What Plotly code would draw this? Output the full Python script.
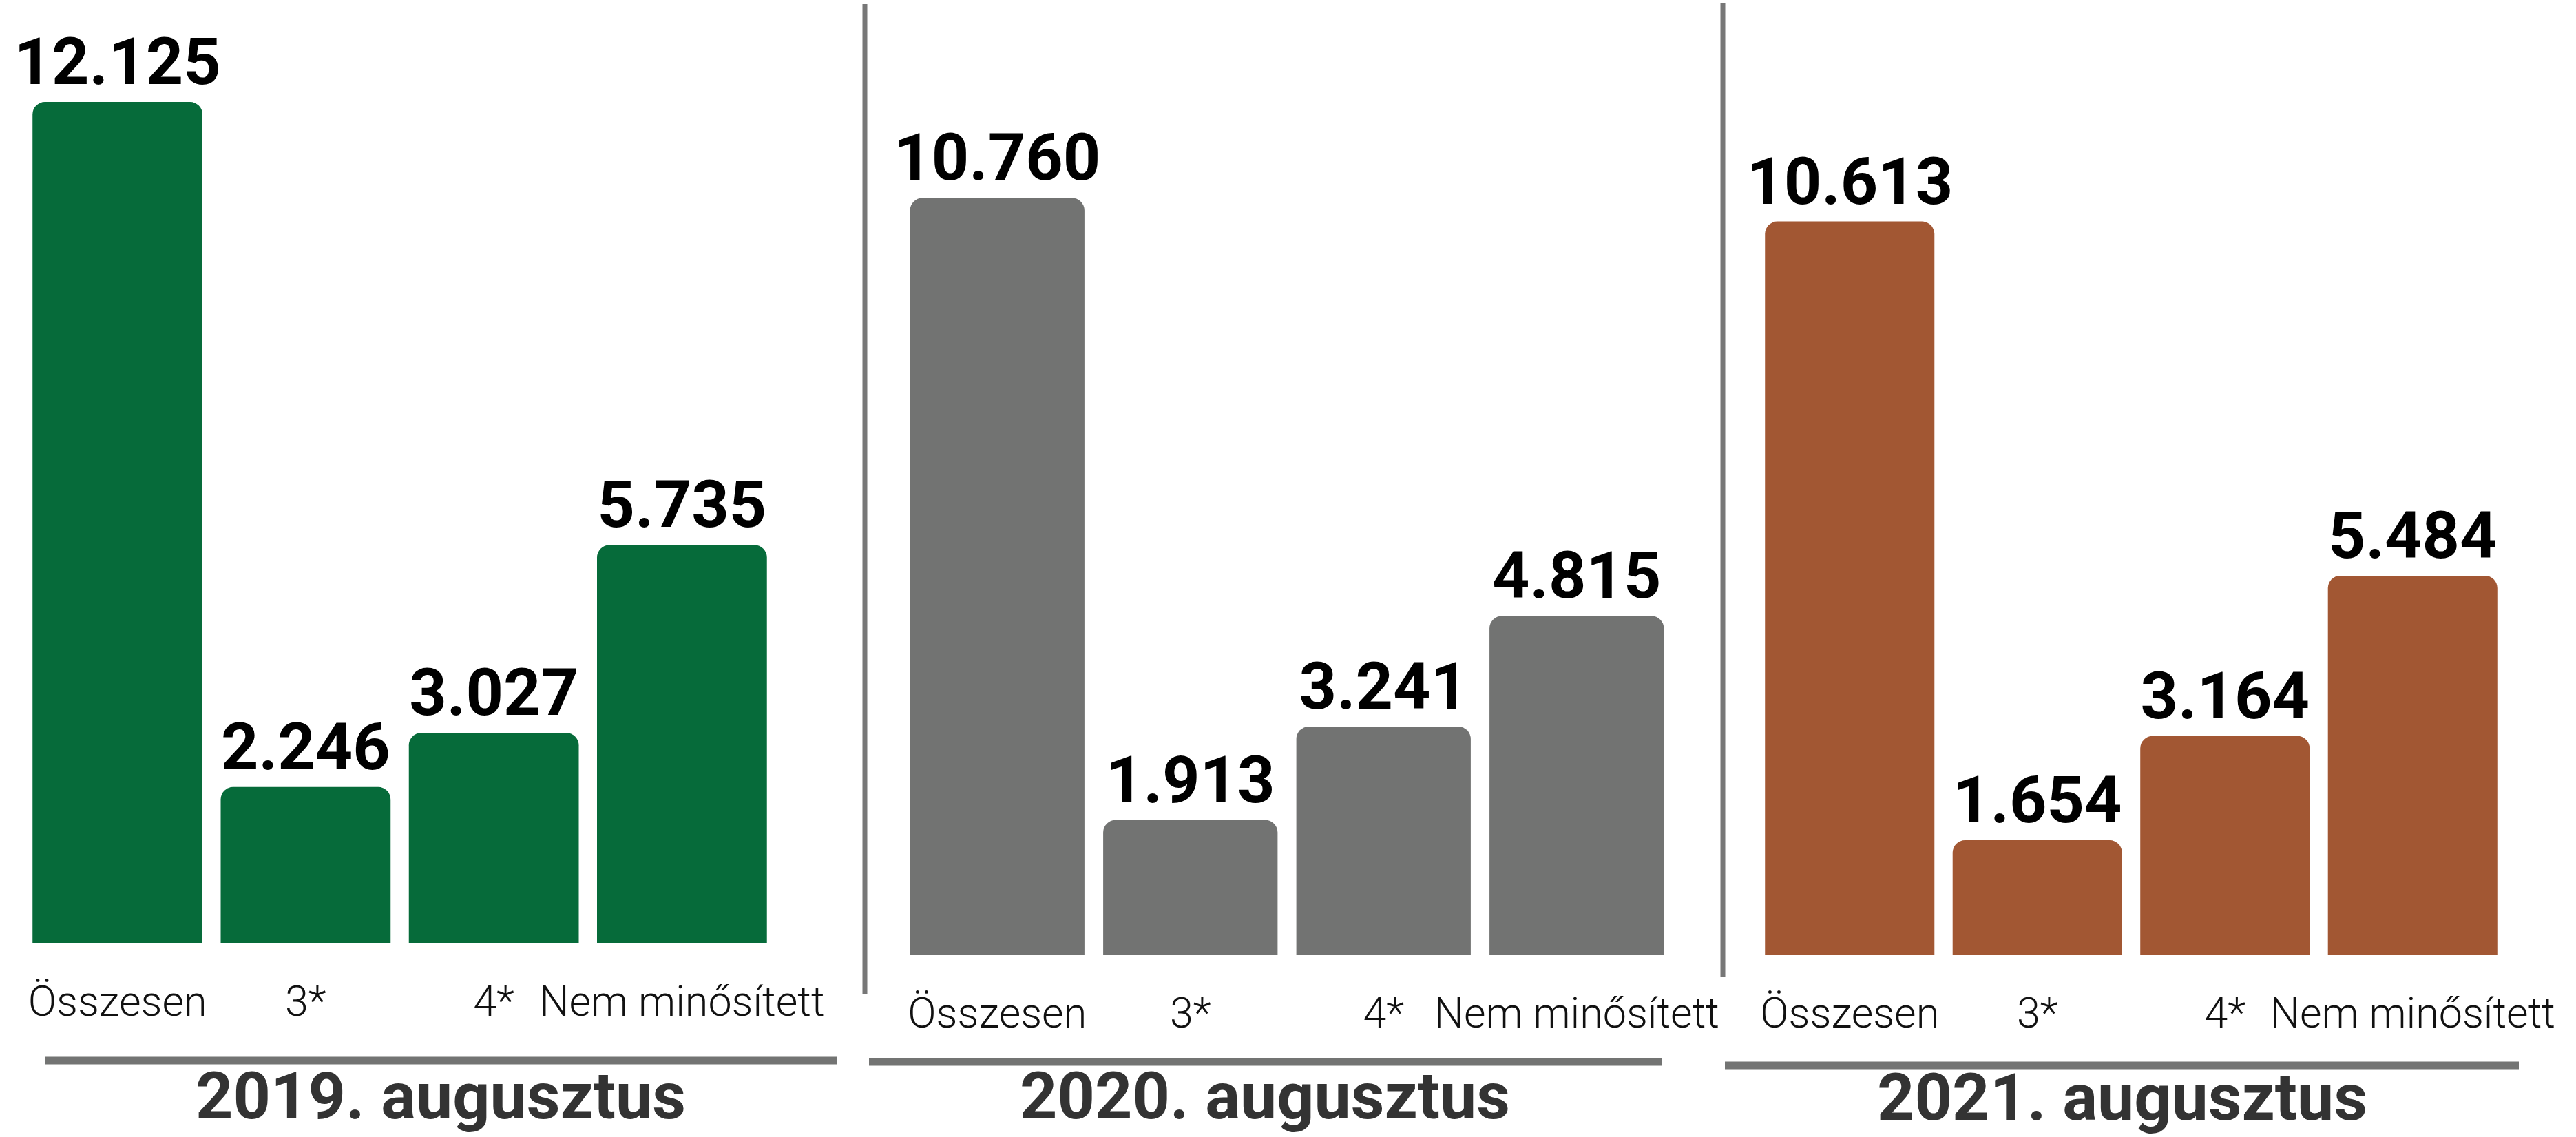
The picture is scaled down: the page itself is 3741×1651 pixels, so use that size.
import plotly.graph_objects as go

# ---------------- data ----------------
categories = ["Összesen", "3*", "4*", "Nem minősített"]
values_2019 = [12125, 2246, 3027, 5735]
values_2020 = [10760, 1913, 3241, 4815]
values_2021 = [10613, 1654, 3164, 5484]
panel_titles = ["2019. augusztus", "2020. augusztus", "2021. augusztus"]
bar_colors = ["#066B3A", "#727372", "#A25733"]

series = [values_2019, values_2020, values_2021]

# ---------------- layout geometry (pixels) ----------------
W, H = 3741, 1651
panels = [
    dict(x0=34, x1=1127, base=1369, scale=0.1007, title_x=640, title_y=1591,
         hline=(65, 1216, 1540), standoff=44),
    dict(x0=1308, x1=2430, base=1386, scale=0.1021, title_x=1837, title_y=1591,
         hline=(1262, 2414, 1542), standoff=44),
    dict(x0=2550, x1=3640, base=1386, scale=0.1003, title_x=3082, title_y=1593,
         hline=(2505, 3658, 1547), standoff=44),
]
YMAX = 13000


def fx(px):
    return px / W


def fy(py):
    return 1 - py / H


fig = go.Figure()
layout_axes = {}
annotations = []
shapes = []

for i, (vals, p) in enumerate(zip(series, panels)):
    n = "" if i == 0 else str(i + 1)
    fig.add_trace(go.Bar(
        x=categories, y=vals,
        xaxis="x" + n, yaxis="y" + n,
        marker=dict(color=bar_colors[i], cornerradius=18, line=dict(width=0)),
        texttemplate="%{y:,.0f}",
        textposition="outside",
        constraintext="none",
        cliponaxis=False,
        textfont=dict(family="Roboto", size=95, weight=700, color="#000000"),
        showlegend=False,
        hoverinfo="skip",
    ))
    top_px = p["base"] - YMAX * p["scale"]
    layout_axes["xaxis" + n] = dict(
        domain=[fx(p["x0"]), fx(p["x1"])],
        anchor="y" + n,
        type="category",
        automargin=False,
        showgrid=False, zeroline=False, showline=False, ticks="",
        tickfont=dict(family="Roboto", size=61, weight=300, color="#111111"),
        ticklabelstandoff=p["standoff"],
        fixedrange=True,
    )
    layout_axes["yaxis" + n] = dict(
        domain=[fy(p["base"]), fy(top_px)],
        anchor="x" + n,
        range=[0, YMAX],
        automargin=False,
        visible=False,
        fixedrange=True,
    )
    annotations.append(dict(
        text=panel_titles[i], x=fx(p["title_x"]), y=fy(p["title_y"]),
        xref="paper", yref="paper", xanchor="center", yanchor="middle",
        showarrow=False,
        font=dict(family="Roboto", size=95, weight=700, color="#333333"),
    ))
    hx0, hx1, hy = p["hline"]
    shapes.append(dict(type="line", xref="paper", yref="paper",
                       x0=fx(hx0), x1=fx(hx1), y0=fy(hy), y1=fy(hy),
                       line=dict(color="#737473", width=11)))

# vertical dividers
for vx, vy0, vy1 in [(1256, 6, 1444), (2502, 5, 1419)]:
    shapes.append(dict(type="line", xref="paper", yref="paper",
                       x0=fx(vx), x1=fx(vx), y0=fy(vy0), y1=fy(vy1),
                       line=dict(color="#777777", width=7)))

fig.update_layout(
    width=W, height=H,
    margin=dict(l=0, r=0, t=0, b=0, pad=0, autoexpand=False),
    paper_bgcolor="white", plot_bgcolor="white",
    separators=",.",
    bargap=0.097,
    annotations=annotations,
    shapes=shapes,
    **layout_axes,
)

fig.write_html(
    "out.html",
    config={"displayModeBar": False},
    post_script="document.body.style.margin='0';document.body.style.overflow='hidden';"
                "document.documentElement.style.overflow='hidden';",
)
